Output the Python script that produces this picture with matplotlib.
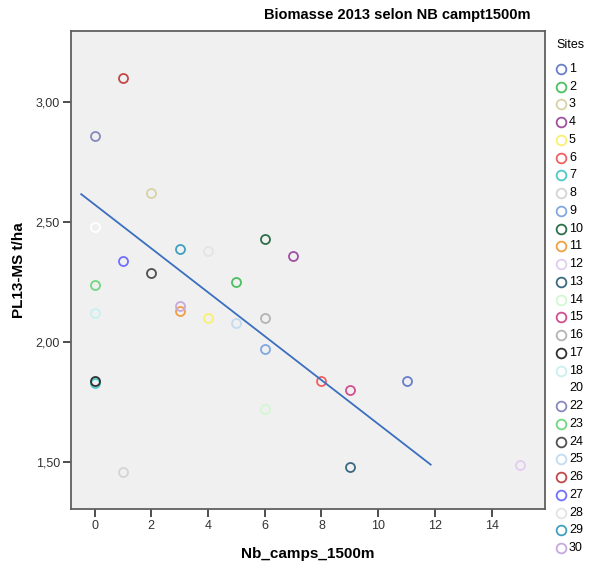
import matplotlib.pyplot as plt
from matplotlib.ticker import FuncFormatter

plt.rcParams['font.family'] = ['Liberation Sans', 'DejaVu Sans']

# sites (legend order) and marker colours
sites = ['1', '2', '3', '4', '5', '6', '7', '8', '9', '10', '11', '12', '13', '14',
         '15', '16', '17', '18', '20', '22', '23', '24', '25', '26', '27', '28', '29', '30']
site_colors = ['#6a7fc8', '#4cc060', '#d8d2a6', '#a050a0', '#f8f070', '#f06060', '#50c8c8',
               '#d4d4d4', '#80a8e0', '#2e6e4a', '#f0a040', '#e2cdf2', '#3a6a80', '#d2f8d2',
               '#d05090', '#b4b4b4', '#303030', '#c8f0f0', '#ffffff', '#8888c0', '#70d880',
               '#505050', '#c4dcf2', '#c04848', '#7070ff', '#e4e4e4', '#40a0c0', '#c8a8e0']

# data per site: Nb_camps_1500m, PL13-MS t/ha
nb_camps = [11, 5, 2, 7, 4, 8, 0, 1, 6, 6, 3, 15, 9, 6,
            9, 6, 0, 0, 0, 0, 0, 2, 5, 1, 1, 4, 3, 3]
biomasse = [1.84, 2.25, 2.62, 2.36, 2.10, 1.84, 1.83, 1.46, 1.97, 2.43, 2.13, 1.49, 1.48, 1.72,
            1.80, 2.10, 1.84, 2.12, 2.48, 2.86, 2.24, 2.29, 2.08, 3.10, 2.34, 2.38, 2.39, 2.15]

# fit line as drawn in the picture
fit_x = [-0.47, 11.85]
fit_y = [2.617, 1.49]

W, H = 589, 565
fig = plt.figure(figsize=(W / 100, H / 100), dpi=100)
ax = fig.add_axes([71 / W, 1 - 509 / H, (545 - 71) / W, (509 - 31) / H])
ax.set_facecolor('#f0f0f0')

for x, y, c in zip(nb_camps, biomasse, site_colors):
    ax.plot(x, y, 'o', mfc='none', mec=c, ms=6.5, mew=1.3)

ax.plot(fit_x, fit_y, color='#3a6fbf', lw=1.3)

ax.set_xlim(-0.83, 15.88)
ax.set_ylim(1.305, 3.297)
ax.set_xticks(range(0, 15, 2))
ax.set_yticks([1.5, 2.0, 2.5, 3.0])
ax.yaxis.set_major_formatter(FuncFormatter(lambda v, p: f'{v:.2f}'.replace('.', ',')))
ax.tick_params(direction='out', length=5.5, width=1.3, color='#404040', labelsize=9,
               labelcolor='#333333', pad=2.5)
for s in ax.spines.values():
    s.set_color('#606060')
    s.set_linewidth(1.3)

ax.set_xlabel('Nb_camps_1500m', fontsize=11, fontweight='bold', labelpad=11)
ax.set_ylabel('PL13-MS t/ha', fontsize=11, fontweight='bold', labelpad=7)
fig.text(530 / W, 1 - 15 / H, 'Biomasse 2013 selon NB campt1500m', ha='right', va='center',
         fontsize=10.5, fontweight='bold')

# legend
lg = fig.add_axes([548 / W, 0, (W - 548) / W, 1])
lg.set_xlim(548, W)
lg.set_ylim(H, 0)
lg.axis('off')
lg.text(556, 45, 'Sites', fontsize=9, va='center', ha='left')
for i, (s, c) in enumerate(zip(sites, site_colors)):
    yy = 69 + i * 17.74
    lg.plot(561, yy, 'o', mfc='none', mec=c, ms=7, mew=1.3)
    lg.text(569, yy, s, fontsize=9, va='center', ha='left')

fig.savefig('out.png', dpi=100)
